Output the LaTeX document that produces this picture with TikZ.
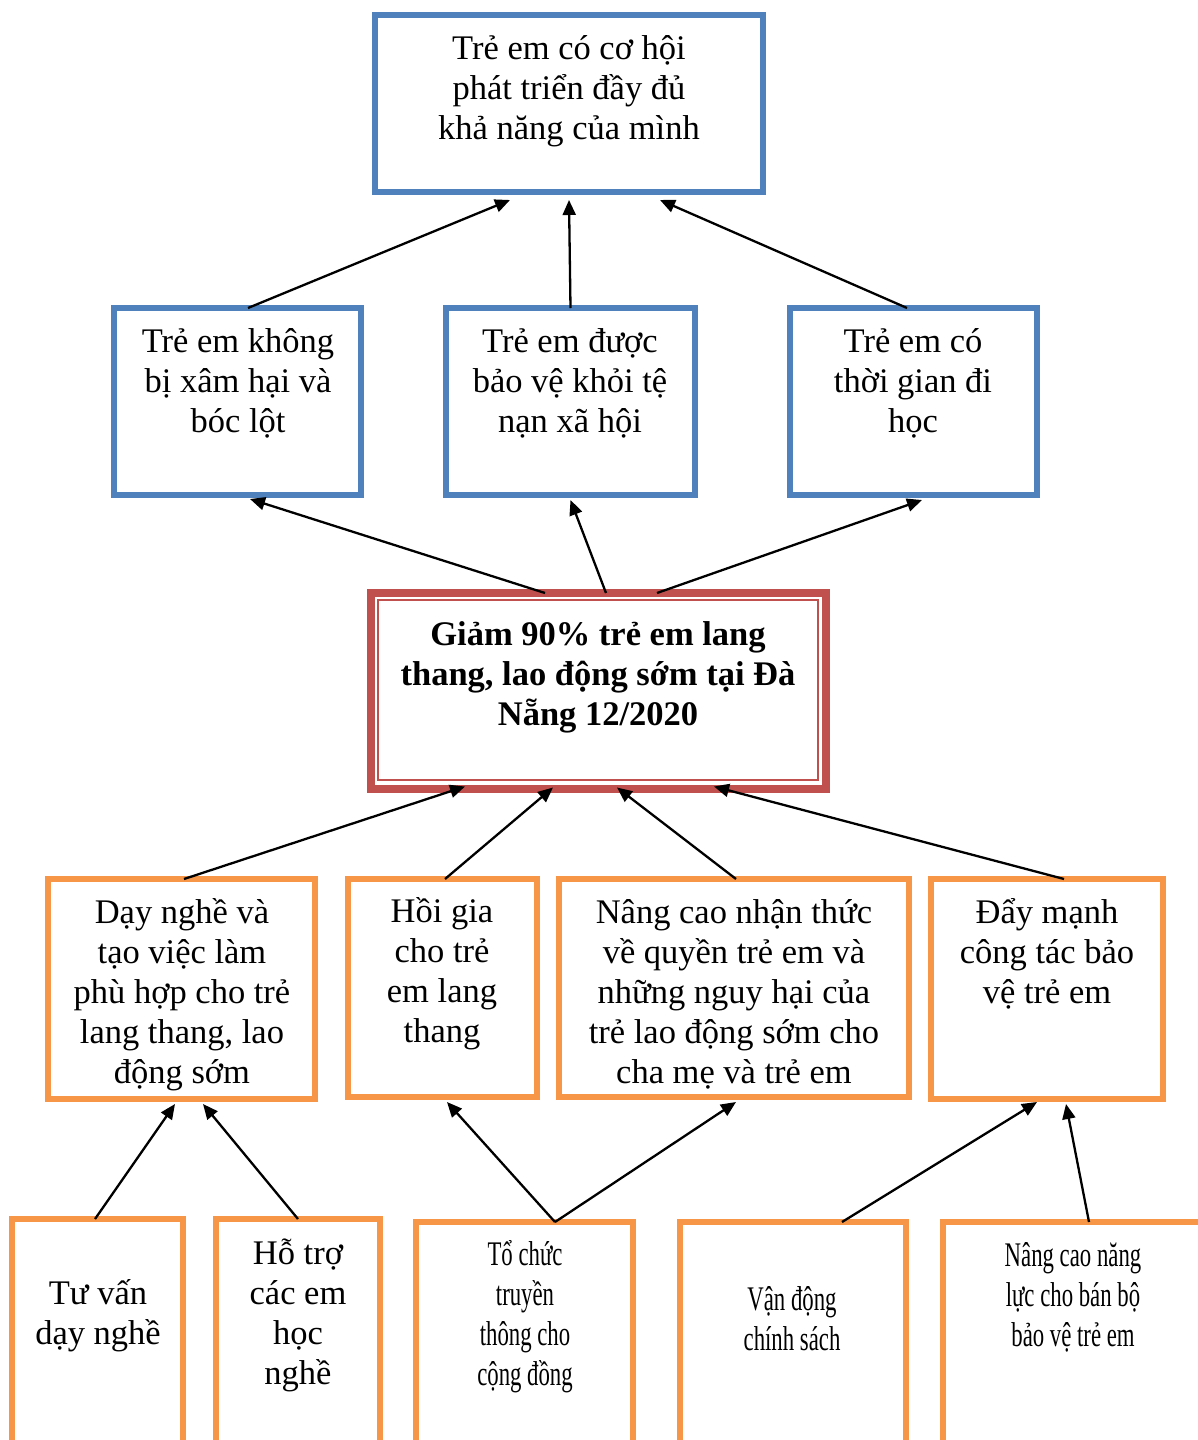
\documentclass[tikz,border=0pt]{standalone}
\usepackage{fontspec}
\setmainfont{Liberation Serif}
\newfontfamily\condfont{Liberation Serif}[FakeStretch=0.66]
\usetikzlibrary{arrows.meta}
\definecolor{bboxc}{HTML}{4F81BD}
\definecolor{oboxc}{HTML}{F79646}
\definecolor{rboxc}{HTML}{C0504D}
\tikzset{
  x=1pt, y=-1pt,
  boxbase/.style={draw, line width=6pt, inner sep=0pt, outer sep=0pt, fill=white},
  bluebox/.style={boxbase, draw=bboxc},
  orangebox/.style={boxbase, draw=oboxc},
  redbox/.style={boxbase, draw=rboxc, line width=8pt},
  txt/.style={align=center, inner sep=0pt, font=\fontsize{34.5}{40}\selectfont},
  ctxt/.style={align=center, inner sep=0pt, font=\fontsize{34.5}{40}\selectfont\condfont},
  btxt/.style={align=center, inner sep=0pt, font=\fontsize{34.5}{40}\selectfont\bfseries},
  arr/.style={line width=2.3pt, -{Triangle[length=15pt,width=13pt]}},
}
\begin{document}
\begin{tikzpicture}
\path[use as bounding box, clip] (0,0) rectangle (1198,1440);
\fill[white] (0,0) rectangle (1198,1440);
% boxes
\node[bluebox, minimum width=388pt, minimum height=177pt] (top) at (569,103.5) {};
\node[bluebox, minimum width=247pt, minimum height=187pt] (ml) at (237.5,401.5) {};
\node[bluebox, minimum width=249pt, minimum height=187pt] (mc) at (570.5,401.5) {};
\node[bluebox, minimum width=247pt, minimum height=187pt] (mr) at (913.5,401.5) {};
\node[redbox, minimum width=455pt, minimum height=195.5pt] (red) at (598.5,690.75) {};
\draw[rboxc, line width=2pt] ([xshift=7pt,yshift=-7pt]red.north west) rectangle ([xshift=-8pt,yshift=8.5pt]red.south east);
\node[orangebox, minimum width=267pt, minimum height=220pt] (o1) at (181.5,989) {};
\node[orangebox, minimum width=189pt, minimum height=218pt] (o2) at (442.5,988) {};
\node[orangebox, minimum width=350pt, minimum height=218pt] (o3) at (734,988) {};
\node[orangebox, minimum width=232pt, minimum height=220pt] (o4) at (1047,989) {};
\node[orangebox, minimum width=171pt, minimum height=241pt] (b1) at (97.5,1339.5) {};
\node[orangebox, minimum width=164pt, minimum height=241pt] (b2) at (298,1339.5) {};
\node[orangebox, minimum width=217pt, minimum height=238pt] (b3) at (524.5,1341) {};
\node[orangebox, minimum width=226pt, minimum height=238pt] (b4) at (793,1341) {};
\node[orangebox, minimum width=260pt, minimum height=238pt] (b5) at (1073,1341) {};
% texts
\node[txt] (ttop) at (569,91) {Trẻ em có cơ hội\\phát triển đầy đủ\\khả năng của mình};
\node[txt] (tml) at (238,383) {Trẻ em không\\bị xâm hại và\\bóc lột};
\node[txt] (tmc) at (570,383) {Trẻ em được\\bảo vệ khỏi tệ\\nạn xã hội};
\node[txt] (tmr) at (913,383) {Trẻ em có\\thời gian đi\\học};
\node[btxt] (tred) at (598,677) {Giảm 90\% trẻ em lang\\thang, lao động sớm tại Đà\\Nẵng 12/2020};
\node[txt] (to1) at (182,995) {Dạy nghề và\\tạo việc làm\\phù hợp cho trẻ\\lang thang, lao\\động sớm};
\node[txt] (to2) at (442,974) {Hồi gia\\cho trẻ\\em lang\\thang};
\node[txt] (to3) at (734,994) {Nâng cao nhận thức\\về quyền trẻ em và\\những nguy hại của\\trẻ lao động sớm cho\\cha mẹ và trẻ em};
\node[txt] (to4) at (1047,954) {Đẩy mạnh\\công tác bảo\\vệ trẻ em};
\node[txt] (tb1) at (98,1316) {Tư vấn\\dạy nghề};
\node[txt] (tb2) at (298,1315) {Hỗ trợ\\các em\\học\\nghề};
\node[ctxt] (tb3) at (525,1317) {Tổ chức\\truyền\\thông cho\\cộng đồng};
\node[ctxt] (tb4) at (792,1318.5) {Vận động\\chính sách};
\node[ctxt] (tb5) at (1073,1297.5) {Nâng cao năng\\lực cho bán bộ\\bảo vệ trẻ em};
% arrows
\draw[arr] ([xshift=10.5pt]ml.north) -- ([xshift=-59pt,yshift=-8pt]top.south);
\draw[arr] (mc.north) -- ([yshift=-8pt]top.south);
\draw[arr] ([xshift=-6.5pt]mr.north) -- ([xshift=91pt,yshift=-8pt]top.south);
\draw[arr] ([xshift=-53.5pt]red.north) -- ([xshift=12.5pt,yshift=-4pt]ml.south);
\draw[arr] ([xshift=7.5pt]red.north) -- ([yshift=-5pt]mc.south);
\draw[arr] ([xshift=58.5pt]red.north) -- ([xshift=8.5pt,yshift=-5pt]mr.south);
\draw[arr] ([xshift=2.5pt]o1.north) -- ([xshift=-133.5pt,yshift=2pt]red.south);
\draw[arr] ([xshift=2.5pt]o2.north) -- ([xshift=-45.5pt,yshift=1pt]red.south);
\draw[arr] ([xshift=2pt]o3.north) -- ([xshift=18.5pt,yshift=1pt]red.south);
\draw[arr] ([xshift=17pt]o4.north) -- ([xshift=115.5pt,yshift=2pt]red.south);
\draw[arr] ([xshift=-2.5pt]b1.north) -- ([xshift=-6.5pt,yshift=-5pt]o1.south);
\draw[arr] (b2.north) -- ([xshift=21.5pt,yshift=-5pt]o1.south);
\draw[arr] ([xshift=30.5pt]b3.north) -- ([xshift=4.5pt,yshift=-5pt]o2.south);
\draw[arr] ([xshift=30.5pt]b3.north) -- ([xshift=2pt,yshift=-5pt]o3.south);
\draw[arr] ([xshift=49pt]b4.north) -- ([xshift=-10pt,yshift=-3pt]o4.south);
\draw[arr] ([xshift=16pt]b5.north) -- ([xshift=19pt,yshift=-5pt]o4.south);
\end{tikzpicture}
\end{document}
